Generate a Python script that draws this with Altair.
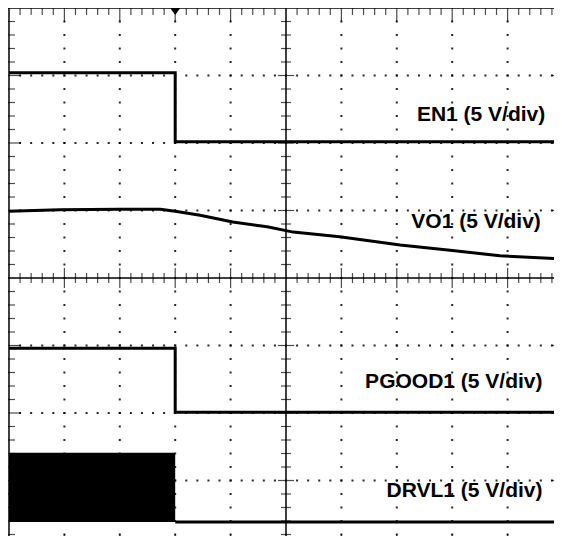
import altair as alt
import pandas as pd

# ---- trace data (x in divisions, y in divisions from bottom) ----
en1_x = [0, 3.0, 3.0, 10]
en1_y = [7.04, 7.04, 6.02, 6.02]

vo1_x = [0, 0.92, 2.0, 2.73, 3.0, 3.45, 4.04, 4.66, 5.13, 5.97, 7.06, 7.96, 8.86, 10]
vo1_y = [4.99, 5.01, 5.02, 5.02, 4.99, 4.93, 4.83, 4.76, 4.68, 4.61, 4.49, 4.41, 4.33, 4.28]

pgood_x = [0, 3.0, 3.0, 10]
pgood_y = [2.96, 2.96, 2.01, 2.01]

drvl_block_x = [0]
drvl_block_x2 = [3.0]
drvl_block_y = [0.385]
drvl_block_y2 = [1.41]
drvl_low_x = [3.0, 10]
drvl_low_y = [0.385, 0.385]

label_text = ["EN1 (5 V/div)", "VO1 (5 V/div)", "PGOOD1 (5 V/div)", "DRVL1 (5 V/div)"]
label_x = [9.68, 9.6, 9.63, 9.63]
label_y = [6.41, 4.83, 2.46, 0.84]

trigger_x = [3.0]

# ---- graticule structure ----
NX, NY, SUB = 10, 8, 5
PX_X, PX_Y = 55.4, 67.5
W, H = 546, 528
xs = alt.Scale(domain=[-0.018, -0.018 + W / PX_X], nice=False, zero=False)
ys = alt.Scale(domain=[NY - H / PX_Y, NY], nice=False, zero=False)


def X(f="x"):
    return alt.X(f"{f}:Q", scale=xs, axis=None)


def Y(f="y"):
    return alt.Y(f"{f}:Q", scale=ys, axis=None)


minor_x = [k / SUB for k in range(1, NX * SUB)]
minor_y = [k / SUB for k in range(1, NY * SUB)]

dots = []
for xi in range(1, NX):
    if xi == NX // 2:
        continue
    for v in minor_y:
        dots.append({"x": xi, "y": v})
for yi in range(1, NY):
    if yi == NY // 2:
        continue
    for v in minor_x:
        dots.append({"x": v, "y": yi})
dots_df = pd.DataFrame(dots)


def is_major(v):
    return abs(v - round(v)) < 1e-9


def vticks(xvals, yv, size):
    df = pd.DataFrame({"x": xvals, "y": [yv] * len(xvals)})
    return alt.Chart(df).mark_tick(orient="vertical", size=size, thickness=1.2,
                                   color="black", clip=True).encode(x=X(), y=Y())


def hticks(yvals, xv, size):
    df = pd.DataFrame({"x": [xv] * len(yvals), "y": yvals})
    return alt.Chart(df).mark_tick(orient="horizontal", size=size, thickness=1.2,
                                   color="black", clip=True).encode(x=X(), y=Y())


mx_minor = [v for v in minor_x if not is_major(v)]
mx_major = [v for v in minor_x if is_major(v) and v != NX / 2]
my_minor = [v for v in minor_y if not is_major(v)]
my_major = [v for v in minor_y if is_major(v) and v != NY / 2]

layers = []
# dotted grid
layers.append(alt.Chart(dots_df).mark_square(size=4, color="black", opacity=0.85, clip=True)
              .encode(x=X(), y=Y()))
# frame and center lines
layers.append(alt.Chart(pd.DataFrame({"y": [NY, NY / 2, 0]})).mark_rule(color="black", strokeWidth=1.5, clip=True)
              .encode(y=Y()))
layers.append(alt.Chart(pd.DataFrame({"x": [0, NX / 2, NX]})).mark_rule(color="black", strokeWidth=1.5, clip=True)
              .encode(x=X()))
# edge ticks
layers += [vticks(mx_minor, NY, 14), vticks(mx_major, NY, 28),
           vticks(mx_minor, 0, 14), vticks(mx_major, 0, 28),
           hticks(my_minor, 0, 12), hticks(my_major, 0, 24),
           hticks(my_minor, NX, 12), hticks(my_major, NX, 24)]
# center line ticks
layers += [vticks(mx_minor, NY / 2, 10), vticks(mx_major, NY / 2, 20),
           hticks(my_minor, NX / 2, 10), hticks(my_major, NX / 2, 16)]


# traces
def trace(xv, yv):
    df = pd.DataFrame({"x": xv, "y": yv, "o": list(range(len(xv)))})
    return alt.Chart(df).mark_line(color="black", strokeWidth=3, clip=True).encode(
        x=X(), y=Y(), order="o:Q")


layers += [trace(en1_x, en1_y), trace(vo1_x, vo1_y), trace(pgood_x, pgood_y),
           trace(drvl_low_x, drvl_low_y)]
block_df = pd.DataFrame({"x": drvl_block_x, "x2": drvl_block_x2,
                         "y": drvl_block_y, "y2": drvl_block_y2})
layers.append(alt.Chart(block_df).mark_rect(color="black", clip=True).encode(
    x=X(), x2="x2:Q", y=Y(), y2="y2:Q"))

# trigger marker (flat-top downward triangle hanging from the top edge)
layers.append(alt.Chart(pd.DataFrame({"x": trigger_x, "y": [NY]})).mark_point(
    shape="M-1,0L1,0L0,1.4Z", filled=True, size=100, color="black", opacity=1, strokeWidth=0)
    .encode(x=X(), y=Y()))

# labels
lab_df = pd.DataFrame({"t": label_text, "x": label_x, "y": label_y})
layers.append(alt.Chart(lab_df).mark_text(align="right", baseline="middle", font="Liberation Sans",
                                          fontWeight="bold", fontSize=21, color="black")
              .encode(x=X(), y=Y(), text="t:N"))

chart = alt.layer(*layers).properties(
    width=W, height=H, padding=0, autosize="none", background="white"
).configure_view(stroke=None)

chart.save("out.html", embed_options={"renderer": "svg", "actions": False})
